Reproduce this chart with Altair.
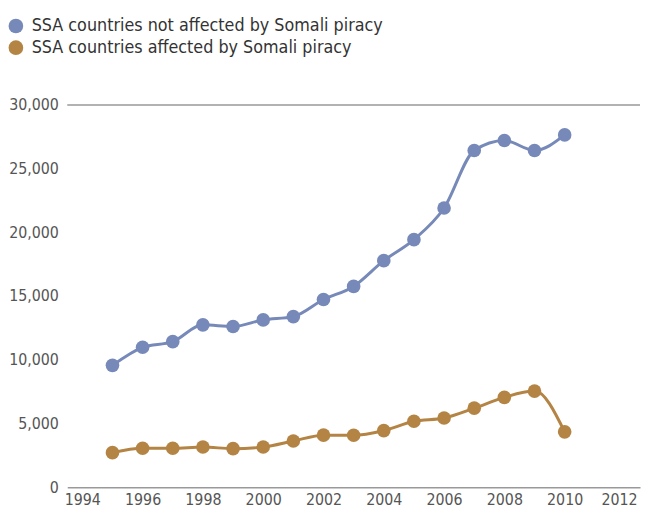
import altair as alt
import pandas as pd

years = list(range(1995, 2011))
not_affected = [9560, 10980, 11420, 12740, 12610, 13130, 13390, 14730, 15760,
                17780, 19430, 21910, 26430, 27210, 26430, 27650]
affected = [2710, 3050, 3050, 3150, 3020, 3150, 3620, 4080, 4070,
            4440, 5170, 5430, 6200, 7050, 7540, 4340]
series_names = ["SSA countries not affected by Somali piracy",
                "SSA countries affected by Somali piracy"]
colors = ["#7689b8", "#b38444"]
x_ticks = list(range(1994, 2013, 2))
y_ticks = list(range(0, 30001, 5000))

rows = []
for y, a, b in zip(years, not_affected, affected):
    rows.append({"year": y, "value": a, "series": series_names[0]})
    rows.append({"year": y, "value": b, "series": series_names[1]})
df = pd.DataFrame(rows)

FONT = "DejaVu Sans Condensed, Liberation Sans, sans-serif"

x = alt.X("year:Q",
          scale=alt.Scale(domain=[1993.5, 2012.5], nice=False, zero=False),
          axis=alt.Axis(values=x_ticks, format="d", title=None, grid=False,
                        ticks=False, domain=True, domainColor="#999999",
                        domainWidth=1.5, labelFontSize=16, labelColor="#555555",
                        labelFont=FONT, labelPadding=5,
                        labelOffset=alt.condition("datum.value == 2012",
                                                  alt.value(-6), alt.value(0))))
y = alt.Y("value:Q",
          scale=alt.Scale(domain=[0, 30000], nice=False),
          axis=alt.Axis(values=y_ticks, format=",d", title=None, grid=False,
                        ticks=False, domain=False, labelFontSize=16,
                        labelColor="#555555", labelFont=FONT, labelPadding=9))
color = alt.Color("series:N",
                  scale=alt.Scale(domain=series_names, range=colors),
                  legend=alt.Legend(title=None, orient="none", legendX=-61,
                                    legendY=-89, symbolType="circle",
                                    symbolSize=220, symbolStrokeWidth=0,
                                    labelFontSize=18, labelFont=FONT,
                                    labelColor="#333333", labelOffset=7,
                                    rowPadding=4, padding=0, labelLimit=600))

lines = alt.Chart(df).mark_line(interpolate="monotone", strokeWidth=3).encode(
    x=x, y=y, color=color, detail="series:N")
points = alt.Chart(df).mark_circle(size=190, opacity=1).encode(
    x=x, y=y, color=color)
top_rule = alt.Chart(pd.DataFrame({"v": [30000]})).mark_rule(
    color="#999999", strokeWidth=1.5).encode(y="v:Q")

chart = alt.layer(top_rule, lines, points).properties(
    width=580, height=387,
    autosize=alt.AutoSizeParams(type="none"),
    padding={"left": 60, "top": 95, "right": 2, "bottom": 25},
).configure_view(stroke=None)

chart.save("out.html", embed_options={"renderer": "svg", "actions": False})
